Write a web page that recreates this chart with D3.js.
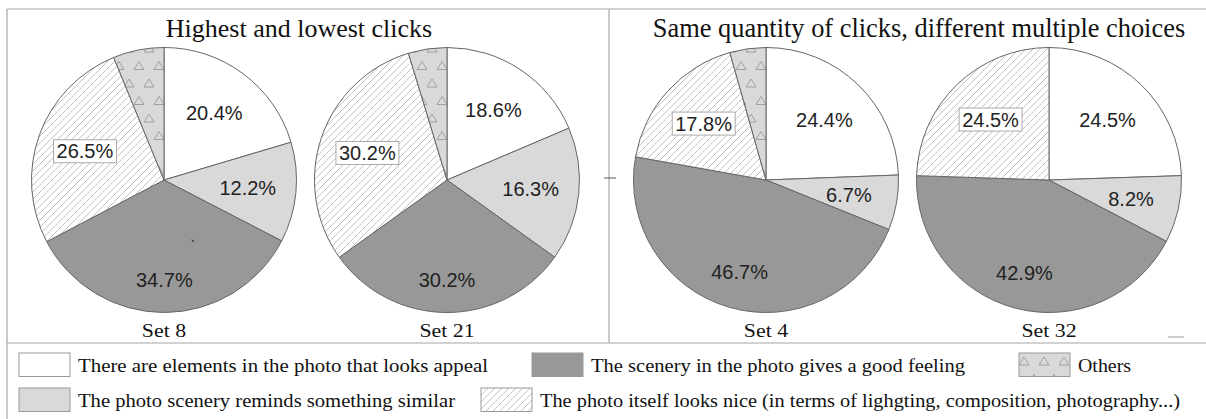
<!DOCTYPE html>
<html>
<head>
<meta charset="utf-8">
<script src="https://cdn.jsdelivr.net/npm/d3@7"></script>
<style>
  html, body { margin: 0; padding: 0; background: #fff; }
  svg { display: block; }
</style>
</head>
<body>
<div id="chart"></div>
<script>
// answer categories, in slice order (clockwise from 12 o'clock)
const categories = [
  "There are elements in the photo that looks appeal",
  "The photo scenery reminds something similar",
  "The scenery in the photo gives a good feeling",
  "The photo itself looks nice (in terms of lighgting, composition, photography...)",
  "Others"
];
const panelTitles = ["Highest and lowest clicks", "Same quantity of clicks, different multiple choices"];
const setNames = ["Set 8", "Set 21", "Set 4", "Set 32"];
// percentages per set, same order as categories
const set8  = [20.4, 12.2, 34.7, 26.5, 6.2];
const set21 = [18.6, 16.3, 30.2, 30.2, 4.7];
const set4  = [24.4, 6.7, 46.7, 17.8, 4.4];
const set32 = [24.5, 8.2, 42.9, 24.5, 0];
const setValues = [set8, set21, set4, set32];

const W = 1206, H = 419;
const fills = ["#ffffff", "#d9d9d9", "#989898", "url(#hatch)", "url(#tri)"];
const lineCol = "#a6a6a6";
const serif = "'Liberation Serif', 'Times New Roman', serif";

const svg = d3.select("#chart").append("svg")
  .attr("width", W).attr("height", H);

// patterns
const defs = svg.append("defs");
const hatch = defs.append("pattern")
  .attr("id", "hatch").attr("patternUnits", "userSpaceOnUse")
  .attr("width", 7).attr("height", 7);
hatch.append("rect").attr("width", 7).attr("height", 7).attr("fill", "#fff");
hatch.append("path")
  .attr("d", "M-1,1 L1,-1 M0,7 L7,0 M6,8 L8,6")
  .attr("stroke", "#b4b4b4").attr("stroke-width", 0.8);

const tri = defs.append("pattern")
  .attr("id", "tri").attr("patternUnits", "userSpaceOnUse")
  .attr("width", 20).attr("height", 35);
tri.append("rect").attr("width", 20).attr("height", 35).attr("fill", "#d9d9d9");
[[5, 12], [15, 29.5]].forEach(p => {
  tri.append("path")
    .attr("d", `M${p[0]},${p[1] - 8} L${p[0] + 5},${p[1]} L${p[0] - 5},${p[1]} Z`)
    .attr("fill", "none").attr("stroke", "#9a9a9a").attr("stroke-width", 0.9);
});

// frame
const frame = svg.append("g").attr("stroke", lineCol).attr("stroke-width", 1.2);
frame.append("line").attr("x1", 7).attr("x2", W).attr("y1", 9).attr("y2", 9);
frame.append("line").attr("x1", 7).attr("x2", 7).attr("y1", 9).attr("y2", H);
frame.append("line").attr("x1", 609).attr("x2", 609).attr("y1", 9).attr("y2", 343);
frame.append("line").attr("x1", 7).attr("x2", W).attr("y1", 343).attr("y2", 343);
svg.append("line").attr("x1", 604).attr("x2", 616).attr("y1", 178).attr("y2", 178)
  .attr("stroke", "#555").attr("stroke-width", 1);

// panels
const panels = [
  { x0: 7, titleX: 299, sets: [0, 1] },
  { x0: 609, titleX: 919, sets: [2, 3] }
];
const pieX = d3.scalePoint().domain([0, 1]).range([157, 440]);
const cy = 180, R = 132.5;

const pie = d3.pie().sort(null).value(d => d);
const arc = d3.arc().innerRadius(0).outerRadius(R);

panels.forEach((p, pi) => {
  svg.append("text")
    .attr("x", p.titleX).attr("y", 37)
    .attr("text-anchor", "middle")
    .style("font-family", serif)
    .style("font-size", pi === 0 ? "26px" : "26.4px").attr("fill", "#111")
    .text(panelTitles[pi]);

  p.sets.forEach((si, k) => {
    const cx = p.x0 + pieX(k);
    const g = svg.append("g").attr("transform", `translate(${cx},${cy})`);
    const arcs = pie(setValues[si]);

    g.selectAll("path.slice")
      .data(arcs.filter(d => d.value > 0))
      .join("path")
      .attr("class", "slice")
      .attr("d", arc)
      .attr("fill", d => fills[d.index])
      .attr("stroke", "#666")
      .attr("stroke-width", 1);

    // percentage labels (not for "Others")
    const lab = g.selectAll("g.lab")
      .data(arcs.filter(d => d.index < 4))
      .join("g")
      .attr("class", "lab")
      .attr("transform", d => {
        const a = (d.startAngle + d.endAngle) / 2;
        const down = Math.max(0, -Math.cos(a));
        const rl = R * 0.635 + 16 * Math.pow(down, 8);
        return `translate(${Math.sin(a) * rl},${-Math.cos(a) * rl})`;
      });
    lab.append("text")
      .attr("text-anchor", "middle")
      .attr("dy", "0.36em")
      .style("font-family", "'Liberation Sans', Arial, sans-serif")
      .style("font-size", "20px")
      .attr("fill", "#222")
      .text(d => d.value.toFixed(1) + "%");
    lab.filter(d => d.index === 3).each(function() {
      const t = d3.select(this).select("text");
      const b = t.node().getBBox();
      d3.select(this).insert("rect", "text")
        .attr("x", b.x - 3).attr("y", -11.5)
        .attr("width", b.width + 6).attr("height", 23)
        .attr("fill", "#fff").attr("stroke", "#aaa").attr("stroke-width", 1);
    });

    // set name under the pie, text slightly widened like the original
    svg.append("text")
      .attr("x", cx).attr("y", 337)
      .attr("text-anchor", "middle")
      .attr("transform", `translate(${cx},0) scale(1.12,1) translate(${-cx},0)`)
      .style("font-family", serif)
      .style("font-size", "19.5px").attr("fill", "#111")
      .text(setNames[si]);
  });
});

// stray marks in the original
svg.append("path").attr("d", "M191.5,239.5 L194.5,242.5 M194.5,239.5 L191.5,242.5")
  .attr("stroke", "#444").attr("stroke-width", 0.8);
svg.append("line").attr("x1", 1168).attr("x2", 1184).attr("y1", 337).attr("y2", 337)
  .attr("stroke", "#999").attr("stroke-width", 1);

// legend (x, y of the swatch; w = width the label is set to)
const legendItems = [
  { i: 0, x: 19, y: 353, w: 410 },
  { i: 2, x: 532, y: 353, w: 374 },
  { i: 4, x: 1019, y: 353, w: 53 },
  { i: 1, x: 19, y: 388, w: 377 },
  { i: 3, x: 481, y: 388, w: 640 }
];
const leg = svg.append("g").selectAll("g")
  .data(legendItems).join("g")
  .attr("transform", d => `translate(${d.x},${d.y})`);
leg.append("rect")
  .attr("width", 51).attr("height", 23.5)
  .attr("fill", d => fills[d.i])
  .attr("stroke", "#999").attr("stroke-width", 1);
leg.append("text")
  .attr("x", 59).attr("y", 19)
  .attr("textLength", d => d.w)
  .attr("lengthAdjust", "spacingAndGlyphs")
  .style("font-family", serif)
  .style("font-size", "18px").attr("fill", "#111")
  .text(d => categories[d.i]);
</script>
</body>
</html>
